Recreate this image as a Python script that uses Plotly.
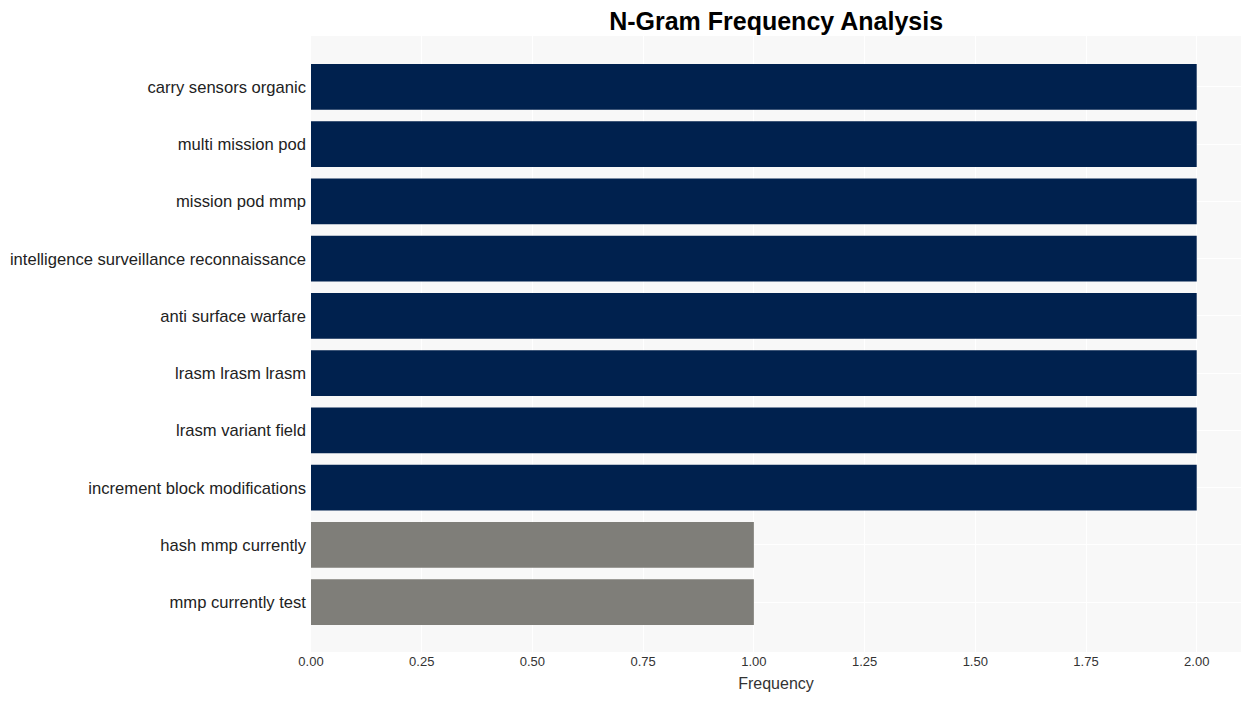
import plotly.graph_objects as go

ngrams = [
    "carry sensors organic",
    "multi mission pod",
    "mission pod mmp",
    "intelligence surveillance reconnaissance",
    "anti surface warfare",
    "lrasm lrasm lrasm",
    "lrasm variant field",
    "increment block modifications",
    "hash mmp currently",
    "mmp currently test",
]
frequency = [2, 2, 2, 2, 2, 2, 2, 2, 1, 1]
colors = ["#00214e" if f >= 2 else "#7f7e79" for f in frequency]

fig = go.Figure(go.Bar(
    x=frequency,
    y=ngrams,
    orientation="h",
    marker=dict(color=colors, line=dict(width=0)),
    width=0.8,
))

fig.update_layout(
    width=1251,
    height=701,
    margin=dict(l=303, r=18, t=28, b=57),
    paper_bgcolor="white",
    plot_bgcolor="#f8f8f8",
    font=dict(family="Liberation Sans, Arial, sans-serif", color="#222222"),
    title=dict(
        text="<b>N-Gram Frequency Analysis</b>",
        x=0.614, xanchor="center", y=0.981, yanchor="middle",
        font=dict(size=25, color="black"),
    ),
    showlegend=False,
    bargap=0.2,
)
fig.update_xaxes(
    range=[0, 2.1],
    tickvals=[0, 0.25, 0.5, 0.75, 1.0, 1.25, 1.5, 1.75, 2.0],
    ticktext=["0.00", "0.25", "0.50", "0.75", "1.00", "1.25", "1.50", "1.75", "2.00"],
    tickfont=dict(size=13, color="#333333"),
    gridcolor="white",
    gridwidth=1,
    zeroline=False,
    automargin=False,
    title=dict(text="Frequency", font=dict(size=16, color="#333333"), standoff=9),
)
fig.update_yaxes(
    autorange=False,
    range=[9.87, -0.89],
    tickfont=dict(size=16.6, color="#222222"),
    gridcolor="white",
    gridwidth=1,
    ticks="",
    automargin=False,
    ticklabelstandoff=4,
)

fig.write_html("out.html")
